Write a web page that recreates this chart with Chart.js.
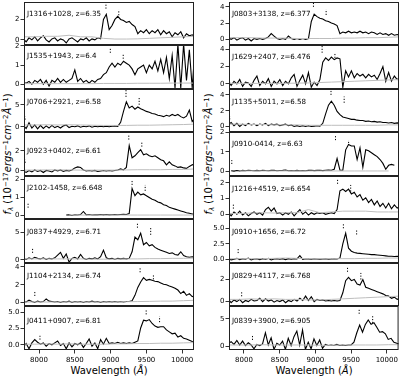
<!DOCTYPE html>
<html><head><meta charset="utf-8">
<script src="https://cdn.jsdelivr.net/npm/chart.js@4.4.1/dist/chart.umd.min.js"></script>
<style>
html,body{margin:0;padding:0;background:#fff;}
#wrap{position:relative;width:400px;height:378px;overflow:hidden;background:#fff;font-family:"DejaVu Sans";}
canvas{position:absolute;}
.t{position:absolute;white-space:nowrap;color:#000;font-family:"DejaVu Sans";font-size:10px;line-height:1;}
.xl{transform:translate(-50%,-50%);}
.yl{transform:translate(-50%,-50%) rotate(-90deg);}
sup{font-size:70%;vertical-align:0.45em;line-height:0;}
sub{font-size:70%;vertical-align:-0.25em;line-height:0;}
</style></head><body>
<div id="wrap">
<div class="t xl" style="left:109px;top:371px;">Wavelength (<i>Å</i>)</div>
<div class="t xl" style="left:314px;top:371px;">Wavelength (<i>Å</i>)</div>
<div class="t yl" style="left:8px;top:154px;"><i>f</i><sub><i>λ</i></sub> (10<sup>−17</sup><i>ergs</i><sup>−1</sup><i>cm</i><sup>−2</sup><i>Å</i><sup>−1</sup>)</div>
<div class="t yl" style="left:209px;top:154px;"><i>f</i><sub><i>λ</i></sub> (10<sup>−17</sup><i>ergs</i><sup>−1</sup><i>cm</i><sup>−2</sup><i>Å</i><sup>−1</sup>)</div>
</div>
<script>
// ---------------- DATA ----------------
const WAVE = [7780,7820,7860,7900,7940,7980,8020,8060,8100,8140,
  8180,8220,8260,8300,8340,8380,8420,8460,8500,8540,
  8580,8620,8660,8700,8740,8780,8820,8860,8900,8940,
  8980,9020,9060,9100,9140,9180,9220,9260,9300,9340,
  9380,9420,9460,9500,9540,9580,9620,9660,9700,9740,
  9780,9820,9860,9900,9940,9980,10020,10060,10100,10140,10180];
const ERR_WAVE = [7780,7940,8100,8260,8420,8580,8740,8900,9060,9220,9380,9540,9700,9860,10020,10180];
const X_TICKS = [8000,8500,9000,9500,10000];
const X_RANGE = [7790,10165];

const LABELS_LEFT = ["J1316+1028, z=6.35","J1535+1943, z=6.4","J0706+2921, z=6.58","J0923+0402, z=6.61",
  "J2102-1458, z=6.648","J0837+4929, z=6.71","J1104+2134, z=6.74","J0411+0907, z=6.81"];
const LABELS_RIGHT = ["J0803+3138, z=6.377","J1629+2407, z=6.476","J1135+5011, z=6.58","J0910-0414, z=6.63",
  "J1216+4519, z=6.654","J0910+1656, z=6.72","J0829+4117, z=6.768","J0839+3900, z=6.905"];

// flux (black)
const flux_J1316 = [0.1,-0.2,0.2,0.0,0.3,-0.1,0.2,0.4,0.0,-0.2, 0.1,0.2,-0.1,0.1,0.0,-0.3,0.1,0.2,0.0,-0.2,
  0.1,0.0,0.2,-0.1,0.1,0.0,0.2,0.1,2.0,2.5, 1.0,1.4,2.0,2.3,2.0,1.9,1.7,1.8,1.5,1.3,
  0.6,0.9,0.7,1.0,0.6,0.9,0.7,1.0,0.5,0.9, 0.6,0.8,0.3,0.7,0.5,0.8,0.2,0.6,0.4,0.5,0.3];
const flux_J1535 = [0.1,0.05,0.15,0.0,0.2,0.1,0.25,0.0,0.2,-0.1, 0.2,0.1,0.3,0.1,0.25,0.1,0.2,0.3,0.75,0.15,
  0.3,0.1,0.2,0.05,0.2,0.1,0.25,0.3,0.5,0.6, 0.9,1.1,0.9,1.1,1.0,1.2,1.1,1.0,0.8,0.5,
  0.8,0.9,1.0,0.6,1.0,0.8,1.2,0.7,1.3,0.6, 1.4,0.3,1.5,-0.2,2.1,-0.2,2.1,0.2,1.8,-0.2,2.0];
const flux_J0706 = [0.3,-0.4,0.9,-0.3,0.4,-0.5,0.3,-0.4,0.2,-0.3, 0.3,-0.2,0.1,-0.3,0.2,0.4,-0.2,0.1,0.0,0.2,
  -0.1,0.1,0.0,0.2,-0.1,0.1,0.0,0.1,0.0,0.1, 0.0,0.1,0.2,0.1,1.0,3.5,5.7,4.3,4.7,4.0,
  4.5,4.1,3.8,3.5,3.3,3.0,2.9,2.6,2.5,2.3, 2.6,2.4,2.8,2.5,2.8,2.3,2.0,2.4,3.8,1.2,2.0];
const flux_J0923 = [0.0,-0.15,0.05,-0.1,0.1,-0.05,0.05,-0.15,0.05,0.0, -0.1,0.1,0.0,0.1,-0.05,0.05,0.0,0.1,0.3,0.4,
  0.35,0.1,0.0,0.05,0.0,0.05,-0.05,0.0,0.05,0.0, 0.05,0.0,0.05,0.1,0.2,0.1,0.35,2.5,1.3,1.5,
  1.8,2.1,1.6,1.7,1.5,1.4,1.5,1.3,1.1,1.0, 0.6,0.9,0.6,0.5,0.35,0.4,0.3,0.25,0.45,0.6,0.7];
const flux_J2102 = [null,null,null,null,null,null,null,null,null,null, null,null,null,null,null,0.02,0.03,0.0,0.04,0.02,
  0.05,0.22,0.03,0.05,0.02,0.04,0.03,0.05,0.03,0.05, 0.03,0.04,0.05,0.04,0.05,0.06,0.05,0.1,1.5,1.1,
  1.3,1.15,1.2,1.1,1.0,0.9,0.85,0.75,0.7,0.6, 0.55,0.45,0.4,0.35,0.3,0.25,0.2,0.15,0.12,0.08,0.07];
const flux_J0837 = [0.3,0.1,0.4,0.2,0.5,0.3,0.2,0.4,0.1,0.3, 0.2,0.4,0.9,1.4,0.3,1.1,-0.4,0.3,0.5,0.2,
  1.0,0.3,0.1,0.3,0.2,0.4,0.2,0.6,1.8,0.4, 0.2,0.3,0.1,0.3,0.2,0.3,0.2,0.3,1.5,4.2,
  3.7,4.9,2.8,3.2,2.6,2.8,2.3,2.0,1.8,1.6, 1.4,1.2,1.3,1.0,0.9,1.5,0.8,0.6,0.5,0.6,0.5];
const flux_J1104 = [0.1,0.05,0.25,0.1,0.0,0.15,0.05,0.1,0.4,0.15, 0.1,0.05,0.1,0.0,0.1,0.05,0.15,0.0,0.1,0.05,
  0.1,0.0,0.1,0.05,0.15,0.05,0.1,0.0,0.1,0.05, 0.1,0.05,0.1,0.05,0.1,0.05,0.1,0.1,0.2,0.8,
  1.7,2.3,2.8,2.5,2.6,2.5,2.4,2.35,2.2,2.05, 2.0,1.85,1.75,1.6,1.4,1.0,1.25,0.8,1.0,0.65,0.8];
const flux_J0411 = [-0.3,0.2,-0.6,0.3,0.8,0.4,0.1,0.3,-0.2,0.2, 0.0,0.3,0.6,-0.1,0.2,-0.6,0.3,-0.3,0.2,0.0,
  0.3,-0.4,0.2,0.9,-0.2,0.3,-0.6,0.8,0.1,1.0, 0.2,0.3,0.2,0.4,0.2,0.3,0.2,0.3,0.2,0.4,
  0.6,2.6,3.8,3.7,3.9,3.3,2.9,2.7,2.8,2.8, 2.3,2.0,1.7,1.8,1.2,1.4,1.0,0.9,0.7,0.5,0.4];
const flux_J0803 = [0.2,0.0,0.2,-0.1,0.1,0.2,-0.1,0.1,-0.2,0.1, 0.0,0.1,0.0,0.1,0.3,0.7,0.4,0.1,0.0,0.1,
  0.0,0.4,0.1,0.0,0.1,0.0,0.1,0.0,0.1,2.2, 3.1,2.8,2.6,2.5,2.3,2.2,2.0,1.9,1.7,0.7,
  0.9,0.8,1.0,0.8,0.9,0.8,1.0,0.8,0.9,0.7, 0.9,0.8,0.6,0.8,0.6,0.7,0.5,0.7,0.5,0.6,0.5];
const flux_J1629 = [0.4,-0.2,0.3,0.0,0.5,-0.3,0.2,0.1,-0.3,0.4, 0.9,-0.2,0.3,0.0,0.6,-0.3,0.3,0.0,0.5,-0.2,
  0.3,0.0,0.7,1.1,-0.3,0.4,1.0,0.0,1.3,-0.4, 0.2,-0.2,0.5,2.5,3.0,2.7,3.1,2.8,3.0,2.9,
  -0.4,1.5,0.8,1.5,0.7,1.2,0.9,1.1,0.7,1.1, 0.8,1.0,0.5,1.2,2.0,0.3,1.3,0.3,0.9,0.5,0.7];
const flux_J1135 = [0.2,0.5,0.1,0.4,0.0,0.3,0.1,0.4,0.2,0.3, 0.1,0.3,0.2,0.4,0.1,0.3,0.2,0.3,0.1,0.2,
  0.3,0.1,0.2,0.0,0.1,0.0,0.1,0.0,0.1,0.0, 0.05,0.1,0.05,0.4,1.6,2.7,3.2,2.7,1.9,1.5,
  1.2,1.1,1.0,0.9,0.9,0.8,0.75,0.75,0.65,0.7, 0.6,0.65,0.55,0.6,0.5,0.5,0.45,0.5,0.4,0.45,0.4];
const flux_J0910m = [null,0.02,0.0,0.03,0.01,0.04,0.02,0.05,0.03,0.02, 0.04,0.02,0.05,0.03,0.02,0.04,0.05,0.02,0.03,0.04,
  0.06,0.02,0.03,0.02,0.04,0.02,0.03,0.02,0.04,0.05, 0.03,0.04,0.05,0.03,0.05,0.06,0.05,0.1,0.65,0.05,
  0.05,1.1,1.38,1.3,1.3,0.6,1.2,0.2,1.1,1.05, 0.95,0.85,0.75,0.6,0.4,0.1,0.3,0.35,0.3,null,null];
const flux_J1216 = [0.1,-0.1,0.15,0.0,0.2,-0.05,0.1,-0.1,0.05,0.15, 0.0,0.1,-0.05,0.3,0.45,0.2,0.4,0.05,0.1,-0.05,
  0.1,0.0,0.15,-0.1,0.1,0.3,0.0,0.15,-0.05,0.1, 0.0,0.1,0.05,0.1,0.0,0.05,0.1,0.05,0.3,1.5,
  1.6,1.45,1.6,1.3,1.4,1.1,1.25,0.9,1.05,0.75, 0.95,0.6,0.85,0.5,0.7,0.4,0.7,0.35,0.6,0.4,0.5];
const flux_J0910p = [0.1,-0.1,0.0,0.15,-0.05,0.1,0.0,0.2,-0.1,0.05, 0.1,-0.05,0.1,0.0,0.15,-0.1,0.05,0.1,0.0,0.1,
  -0.05,0.1,0.0,0.1,0.05,0.6,0.0,0.1,0.05,0.0, 0.1,0.05,0.0,0.05,0.1,0.0,0.05,0.1,0.05,0.2,
  2.5,4.2,1.8,1.3,1.1,1.0,0.95,0.9,0.85,0.8, 0.75,0.75,0.7,0.65,0.6,0.55,0.5,0.5,0.45,0.5,0.4];
const flux_J0829 = [0.2,-0.1,0.15,0.0,0.2,-0.1,0.1,0.0,0.2,0.05, 0.1,0.3,0.0,0.25,0.05,0.15,-0.05,0.1,0.0,0.15,
  -0.1,0.1,0.0,0.2,0.05,0.3,0.1,0.5,0.1,0.45, 0.0,0.2,0.1,0.15,0.05,0.1,0.05,0.1,0.05,0.1,
  0.8,1.9,2.2,1.9,2.0,1.6,1.5,2.0,1.3,1.2, 1.1,1.0,0.9,0.8,0.7,0.55,0.5,0.3,0.4,0.2,0.3];
const flux_J0839 = [0.5,0.9,0.4,1.1,0.3,1.0,0.2,0.7,0.3,-0.4, 0.4,0.2,0.5,2.5,0.3,1.6,-0.5,0.6,0.3,1.0,
  -0.5,1.5,0.2,1.8,2.8,0.3,3.0,-0.5,0.8,-0.4, 1.4,0.2,1.2,-0.3,0.4,0.2,0.3,0.2,0.4,0.2,
  0.3,0.2,0.3,0.3,0.8,2.5,3.9,2.6,4.0,4.8, 4.0,4.3,3.5,2.6,2.7,2.3,1.3,1.5,0.8,0.6,0.5];

// error spectra (grey), on ERR_WAVE
const err_J1316 = [0.3,0.3,0.35,0.35,0.45,0.3,0.3,0.15,0.08,0.08,0.1,0.15,0.2,0.25,0.3,0.35];
const err_J1535 = [0.03,0.03,0.03,0.03,0.03,0.03,0.03,0.04,0.04,0.04,0.05,0.05,0.05,0.06,0.06,0.06];
const err_J0706 = [0.4,0.4,0.45,0.4,0.45,0.4,0.35,0.3,0.3,0.3,0.35,0.35,0.4,0.45,0.5,0.6];
const err_J0923 = [0.08,0.08,0.1,0.1,0.1,0.08,0.08,0.08,0.08,0.1,0.12,0.12,0.12,0.15,0.15,0.2];
const err_J2102 = [null,null,null,null,0.02,0.02,0.02,0.02,0.02,0.02,0.02,0.02,0.02,0.02,0.02,0.02];
const err_J0837 = [0.2,0.2,0.2,0.2,0.2,0.2,0.15,0.15,0.15,0.2,0.2,0.25,0.25,0.3,0.3,0.35];
const err_J1104 = [0.05,0.05,0.05,0.05,0.05,0.05,0.05,0.05,0.05,0.08,0.1,0.12,0.15,0.15,0.2,0.25];
const err_J0411 = [0.1,0.1,0.15,0.1,0.15,0.1,0.1,0.1,0.15,0.15,0.2,0.2,0.25,0.25,0.3,0.35];
const err_J0803 = [0.2,0.2,0.2,0.15,0.15,0.15,0.1,0.1,0.1,0.1,0.15,0.15,0.2,0.2,0.25,0.3];
const err_J1629 = [0.05,0.05,0.05,0.05,0.05,0.06,0.08,0.1,0.15,0.2,0.25,0.3,0.35,0.4,0.45,0.5];
const err_J1135 = [0.3,0.3,0.25,0.25,0.2,0.2,0.2,0.15,0.15,0.15,0.15,0.15,0.15,0.15,0.2,0.2];
const err_J0910m = [null,0.01,0.01,0.01,0.01,0.01,0.01,0.01,0.01,0.01,0.01,0.01,0.01,0.01,0.01,null];
const err_J1216 = [0.05,0.05,0.08,0.1,0.08,0.1,0.1,0.3,0.1,0.15,0.2,0.2,0.2,0.15,0.15,0.15];
const err_J0910p = [0.1,0.1,0.1,0.1,0.15,0.2,0.15,0.1,0.1,0.1,0.1,0.1,0.15,0.15,0.2,0.2];
const err_J0829 = [0.2,0.2,0.25,0.2,0.25,0.2,0.2,0.15,0.15,0.2,0.25,0.3,0.35,0.4,0.45,0.5];
const err_J0839 = [0.3,0.3,0.3,0.35,0.3,0.3,0.3,0.3,0.25,0.25,0.3,0.3,0.3,0.3,0.35,0.35];

// line markers: [observed wavelength, y from, y to]
const mark_J1316 = [[8935,3.05,3.6],[9114,2.4,2.95]];
const mark_J1535 = [[8996,1.64,1.9],[9176,1.33,1.59]];
const mark_J0706 = [[7805,1.6,2.3],[9215,6.8,8.4],[9399,5.0,6.6]];
const mark_J0923 = [[7806,0.8,1.1],[9254,3.1,3.6],[9436,2.4,2.9]];
const mark_J2102 = [[7847,0.43,0.7],[9300,1.7,1.98],[9483,1.37,1.7]];
const mark_J0837 = [[7910,1.3,2.2],[9375,5.9,6.8],[9560,4.6,5.9]];
const mark_J1104 = [[7941,0.73,1.2],[9412,3.4,3.9],[9598,2.6,3.2]];
const mark_J0411 = [[8013,0.8,1.4],[9497,4.7,5.5],[9684,3.5,4.4]];
const mark_J0803 = [[8970,4.0,4.6],[9147,3.0,3.7]];
const mark_J1629 = [[9091,3.6,4.4],[9270,3.0,3.6]];
const mark_J1135 = [[7800,0.9,1.3],[9215,4.0,4.6],[9399,3.0,3.8]];
const mark_J0910m = [[7829,0.37,0.57],[9278,1.6,1.87],[9461,1.45,1.6]];
const mark_J1216 = [[7851,0.36,0.68],[9307,1.94,2.2],[9490,1.45,1.87]];
const mark_J0910p = [[7918,1.0,1.8],[9388,5.0,5.9],[9573,4.0,4.9]];
const mark_J0829 = [[7967,0.48,0.92],[9446,2.7,3.1],[9632,2.0,2.6]];
const mark_J0839 = [[8119,1.2,2.1],[9613,5.9,6.8],[9802,4.25,5.5]];

// y-axis limits and ticks
const YLIM_LEFT = [[-0.5,3.7],[-0.25,2.05],[-1.2,8.6],[-0.5,3.85],[-0.2,2.2],[-0.55,7.5],[-0.4,4.45],[-0.8,6.0]];
const YLIM_RIGHT = [[-0.7,4.6],[-0.6,4.5],[-0.7,4.75],[-0.25,2.02],[-0.3,2.44],[-0.6,6.5],[-0.4,3.5],[-0.6,7.3]];
const YTICKS_LEFT = [[0,2],[0,1,2],[0,5],[0,2],[0,1,2],[0,5],[0,2,4],[0,2.5,5]];
const YTICKS_RIGHT = [[0,2,4],[0,2,4],[0,2,4],[0,1,2],[0,1,2],[0,2.5,5],[0,2],[0,5]];

const FLUX_LEFT = [flux_J1316,flux_J1535,flux_J0706,flux_J0923,flux_J2102,flux_J0837,flux_J1104,flux_J0411];
const FLUX_RIGHT = [flux_J0803,flux_J1629,flux_J1135,flux_J0910m,flux_J1216,flux_J0910p,flux_J0829,flux_J0839];
const ERR_LEFT = [err_J1316,err_J1535,err_J0706,err_J0923,err_J2102,err_J0837,err_J1104,err_J0411];
const ERR_RIGHT = [err_J0803,err_J1629,err_J1135,err_J0910m,err_J1216,err_J0910p,err_J0829,err_J0839];
const MARK_LEFT = [mark_J1316,mark_J1535,mark_J0706,mark_J0923,mark_J2102,mark_J0837,mark_J1104,mark_J0411];
const MARK_RIGHT = [mark_J0803,mark_J1629,mark_J1135,mark_J0910m,mark_J1216,mark_J0910p,mark_J0829,mark_J0839];

// ---------------- LAYOUT ----------------
const TOPS = [2,45,89,132,176,219,263,306,350];
const COLS = [{cl:0,cw:200,pl:24,pr:194},{cl:200,cw:200,pl:229,pr:399}];
const LABEL_DY = [[12,11.2,12.7,19.2,12.3,13.2,13,15.2],[12,11.8,12.7,12.5,13.3,13.2,13.5,15.2]];
const PADT = 6, PADB = 6, XH = 20;
const FONT = {family:'DejaVu Sans', size:7};

Chart.defaults.font.family = 'DejaVu Sans';

const framePlugin = {
  id:'frame',
  afterDatasetsDraw(chart){
    const a = chart.chartArea, c = chart.ctx;
    c.save(); c.strokeStyle = '#222'; c.lineWidth = 1;
    c.strokeRect(a.left+0.5, a.top+0.5, a.right-a.left-1, a.bottom-a.top-1);
    const o = chart.options.plugins.panelLabel;
    c.fillStyle = '#000'; c.font = '7.1px "DejaVu Sans"'; c.textBaseline = 'middle'; c.textAlign = 'left';
    c.fillText(o.text, a.left+3, a.top+o.dy);
    c.restore();
  }
};

const wrap = document.getElementById('wrap');

function makePanel(col,row){
  const C = COLS[col];
  const top = TOPS[row], bot = TOPS[row+1];
  const isB = row === 7;
  const h = (bot-top) + PADT + (isB ? XH : PADB);
  const cv = document.createElement('canvas');
  cv.width = C.cw; cv.height = h;
  cv.style.left = C.cl+'px'; cv.style.top = (top-PADT)+'px';
  cv.style.width = C.cw+'px'; cv.style.height = h+'px';
  wrap.appendChild(cv);

  const flux = (col ? FLUX_RIGHT : FLUX_LEFT)[row];
  const err = (col ? ERR_RIGHT : ERR_LEFT)[row];
  const marks = (col ? MARK_RIGHT : MARK_LEFT)[row];
  const ylim = (col ? YLIM_RIGHT : YLIM_LEFT)[row];
  const yt = (col ? YTICKS_RIGHT : YTICKS_LEFT)[row];
  const label = (col ? LABELS_RIGHT : LABELS_LEFT)[row];
  const dec = yt.some(v => v % 1 !== 0);

  const ds = [];
  ds.push({data: ERR_WAVE.map((w,i)=>({x:w,y:err[i]})), borderColor:'#bdbdbd', borderWidth:1, pointRadius:0, spanGaps:false});
  ds.push({data: WAVE.map((w,i)=>({x:w,y:flux[i]})), borderColor:'#000', borderWidth:1.1, pointRadius:0, spanGaps:false});
  marks.forEach(m => ds.push({data:[{x:m[0],y:m[1]},{x:m[0],y:m[2]}], borderColor:'#000', borderWidth:1, borderDash:[1.2,1.6], pointRadius:0}));

  const gridCfg = {display:true, drawOnChartArea:false, drawTicks:true, tickLength:3.5, color:'#000', tickWidth:0.8};
  new Chart(cv, {
    type:'line',
    data:{datasets:ds},
    options:{
      responsive:false, animation:false, devicePixelRatio:1,
      layout:{padding:{left:0, right:C.cw-(C.pr-C.cl), top:PADT, bottom:isB?0:PADB}},
      plugins:{legend:{display:false}, tooltip:{enabled:false}, panelLabel:{text:label, dy:LABEL_DY[col][row]}},
      scales:{
        x:{type:'linear', min:X_RANGE[0], max:X_RANGE[1], display:isB,
          afterBuildTicks:s=>{s.ticks = X_TICKS.map(v=>({value:v}));},
          afterFit:s=>{ if (isB) s.height = XH; else s.height = 0; },
          ticks:{font:FONT, color:'#000', padding:2, maxRotation:0, autoSkip:false, callback:v=>String(v)},
          grid:gridCfg, border:{display:false}},
        y:{type:'linear', min:ylim[0], max:ylim[1],
          afterBuildTicks:s=>{s.ticks = yt.map(v=>({value:v}));},
          afterFit:s=>{s.width = C.pl - C.cl;},
          ticks:{font:FONT, color:'#000', padding:1, callback:v=>dec ? v.toFixed(1) : String(v)},
          grid:gridCfg, border:{display:false}}
      }
    },
    plugins:[framePlugin]
  });
}

for (let col=0; col<2; col++) for (let row=0; row<8; row++) makePanel(col,row);
</script>
</body></html>
